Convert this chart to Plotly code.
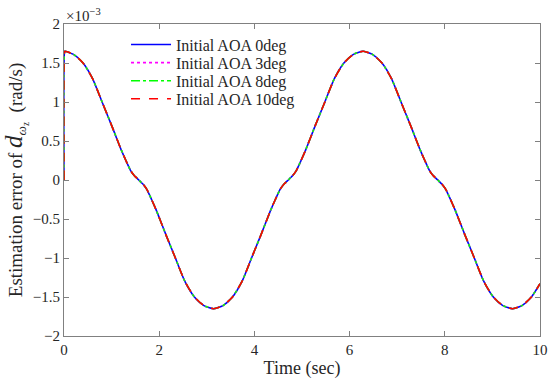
import plotly.graph_objects as go

# Time samples (sec)
time_s = [0, 0.01, 0.02, 0.2, 0.4, 0.6, 0.8, 1.0, 1.2, 1.30, 1.40, 1.47, 1.52, 1.571,
          1.62, 1.67, 1.74, 1.84, 1.94,
          2.14, 2.34, 2.54, 2.74, 2.94, 3.142, 3.34, 3.54, 3.74, 3.94, 4.14, 4.34, 4.44, 4.54,
          4.61, 4.66, 4.712, 4.76, 4.81, 4.88, 4.98, 5.08, 5.28, 5.48, 5.68, 5.88, 6.08, 6.283,
          6.48, 6.68, 6.88, 7.08, 7.28, 7.48, 7.58, 7.68, 7.75, 7.80, 7.854, 7.90, 7.95, 8.02,
          8.12, 8.22, 8.42, 8.62, 8.82, 9.02, 9.22, 9.425, 9.62, 9.82, 10.0]
# Estimation error (x 1e-3 rad/s), same for all four initial AOA cases
err_e3 = [0, 1.64, 1.65, 1.61, 1.50, 1.30, 1.00, 0.70, 0.39, 0.25, 0.12, 0.06, 0.03, 0.0,
          -0.03, -0.06, -0.12, -0.25, -0.39,
          -0.70, -1.00, -1.30, -1.50, -1.61, -1.65, -1.61, -1.50, -1.30, -1.00, -0.70, -0.39, -0.25, -0.12,
          -0.06, -0.03, 0.0, 0.03, 0.06, 0.12, 0.25, 0.39, 0.70, 1.00, 1.30, 1.50, 1.61, 1.65,
          1.61, 1.50, 1.30, 1.00, 0.70, 0.39, 0.25, 0.12, 0.06, 0.03, 0.0, -0.03, -0.06, -0.12,
          -0.25, -0.39, -0.70, -1.00, -1.30, -1.50, -1.61, -1.65, -1.61, -1.50, -1.33]

series_names = ["Initial AOA 0deg", "Initial AOA 3deg", "Initial AOA 8deg", "Initial AOA 10deg"]
series_colors = ["#0000ff", "#ff00ff", "#00ff00", "#ff0000"]
series_dash = ["solid", "dot", "dashdot", "dash"]

y_ticks = [-2, -1.5, -1, -0.5, 0, 0.5, 1, 1.5, 2]
y_ticktext = ["\u22122", "\u22121.5", "\u22121", "\u22120.5", "0", "0.5", "1", "1.5", "2"]
x_ticks = [0, 2, 4, 6, 8, 10]

serif = "Liberation Serif"
legend_ids = ["legend", "legend2", "legend3", "legend4"]
legend_rows_y = [0.934, 0.876, 0.818, 0.760]

fig = go.Figure()
for name, col, dash, lid in zip(series_names, series_colors, series_dash, legend_ids):
    fig.add_trace(go.Scatter(x=time_s, y=err_e3, mode="lines", name=name, cliponaxis=False,
                             legend=lid,
                             line=dict(color=col, dash=dash, width=1.6, shape="spline", smoothing=0.6)))

legend_layouts = {}
for lid, ly in zip(legend_ids, legend_rows_y):
    legend_layouts[lid] = dict(x=0.1303, y=ly, xanchor="left", yanchor="middle",
                               bgcolor="rgba(0,0,0,0)", borderwidth=0, itemwidth=40,
                               font=dict(family=serif, size=16, color="#262626"))

axis_common = dict(showline=True, linecolor="#808080", linewidth=1, mirror="ticks",
                   ticks="inside", ticklen=5, tickcolor="#808080", showgrid=False, zeroline=False,
                   automargin=False, ticklabeloverflow="allow",
                   tickfont=dict(family=serif, size=15, color="#262626"))

fig.update_layout(
    width=550, height=387,
    margin=dict(l=64, r=10, t=24, b=51),
    paper_bgcolor="white", plot_bgcolor="white",
    showlegend=True,
    xaxis=dict(range=[0, 10], tickvals=x_ticks,
               title=dict(text="Time (sec)", font=dict(family=serif, size=18, color="#262626"), standoff=4),
               **axis_common),
    yaxis=dict(range=[-2, 2], tickvals=y_ticks, ticktext=y_ticktext,
               title=dict(text="Estimation error of <span style='font-size:25px'><i>d</i></span>"
                               "<sub><i>\u03c9</i><sub>z</sub></sub>  (rad/s)",
                          font=dict(family=serif, size=19, color="#262626"), standoff=8),
               **axis_common),
    annotations=[dict(text="\u00d710<sup>\u22123</sup>", xref="paper", yref="paper", x=0.0, y=1.0,
                      xanchor="left", yanchor="bottom", showarrow=False, yshift=-2,
                      font=dict(family=serif, size=15, color="#262626"))],
    **legend_layouts,
)

fig.write_html("out.html", config={"displayModeBar": False},
               post_script="document.body.style.margin='0';")
